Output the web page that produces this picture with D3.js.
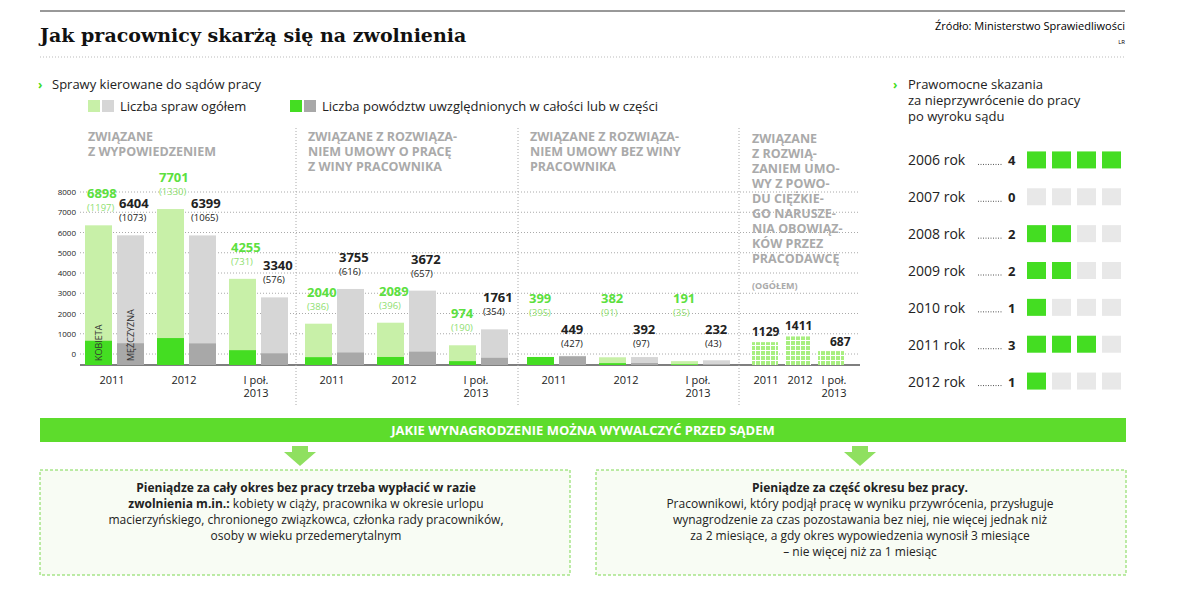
<!DOCTYPE html>
<html><head><meta charset="utf-8">
<script src="https://cdn.jsdelivr.net/npm/d3@7"></script>
<style>body{margin:0;background:#fff;font-family:"Open Sans",sans-serif}</style>
</head><body>
<svg id="c" width="1200" height="589"></svg>
<script>
const periods = ["2011", "2012", "I poł.|2013"]
const panelTitles = [
    ["ZWIĄZANE", "Z WYPOWIEDZENIEM"],
    ["ZWIĄZANE Z ROZWIĄZA-", "NIEM UMOWY O PRACĘ", "Z WINY PRACOWNIKA"],
    ["ZWIĄZANE Z ROZWIĄZA-", "NIEM UMOWY BEZ WINY", "PRACOWNIKA"]
]
// [kobieta total, kobieta uwzgl., mężczyzna total, mężczyzna uwzgl.] per period
const wypowiedzenie = [[6898, 1197, 6404, 1073], [7701, 1330, 6399, 1065], [4255, 731, 3340, 576]]
const winaPracownika = [[2040, 386, 3755, 616], [2089, 396, 3672, 657], [974, 190, 1761, 354]]
const bezWiny = [[399, 395, 449, 427], [382, 91, 392, 97], [191, 35, 232, 43]]
const pracodawca = [1129, 1411, 687]
const yTicks = [0, 1000, 2000, 3000, 4000, 5000, 6000, 7000, 8000]
const skazaniaYears = ["2006 rok", "2007 rok", "2008 rok", "2009 rok", "2010 rok", "2011 rok", "2012 rok"]
const skazania = [4, 0, 2, 2, 1, 3, 1]

const svg = d3.select("#c")
const GL = "#c8f0a8", G = "#44dd22", GR = "#d6d6d6", GD = "#a8a8a8", TXT = "#222"

// header
svg.append("line").attr("x1", 40).attr("x2", 1125).attr("y1", 11).attr("y2", 11).attr("stroke", "#333").attr("stroke-width", 1)
svg.append("text").attr("x", 40).attr("y", 42).attr("font-family", "DejaVu Serif").attr("font-weight", "bold").attr("font-size", 19).attr("fill", "#111").text("Jak pracownicy skarżą się na zwolnienia")
svg.append("text").attr("x", 1125).attr("y", 30).attr("text-anchor", "end").attr("font-size", 11).text("Źródło: Ministerstwo Sprawiedliwości")
svg.append("text").attr("x", 1125).attr("y", 44).attr("text-anchor", "end").attr("font-size", 6).text("LR")
svg.append("line").attr("x1", 40).attr("x2", 1125).attr("y1", 57).attr("y2", 57).attr("stroke", "#bbb").attr("stroke-dasharray", "1,2")

const bullet = (x, y) => svg.append("text").attr("x", x).attr("y", y).attr("fill", G).attr("font-size", 12).attr("font-weight", "bold").text("›")
bullet(38, 89)
svg.append("text").attr("x", 52).attr("y", 89).attr("font-size", 13).attr("fill", TXT).text("Sprawy kierowane do sądów pracy")

// legend
const leg = [[88, [GL, GR], "Liczba spraw ogółem"], [290, [G, GD], "Liczba powództw uwzględnionych w całości lub w części"]]
leg.forEach(([x, cols, t]) => {
    cols.forEach((c, i) => svg.append("rect").attr("x", x + i * 14).attr("y", 100).attr("width", 12).attr("height", 12).attr("fill", c))
    svg.append("text").attr("x", x + 32).attr("y", 111).attr("font-size", 13).attr("fill", TXT).text(t)
})

const y = d3.scaleLinear().domain([0, 8000]).range([365, 203])

// gridlines + axis labels
const grid = svg.append("g")
yTicks.forEach(t => {
    grid.append("line").attr("x1", 80).attr("x2", 860).attr("y1", y(t) - 11).attr("y2", y(t) - 11)
        .attr("stroke", "#aaa").attr("stroke-dasharray", "1,2")
    grid.append("text").attr("x", 76).attr("y", y(t) - 8).attr("text-anchor", "end").attr("font-size", 8).attr("fill", TXT).text(t)
})
svg.append("line").attr("x1", 80).attr("x2", 860).attr("y1", 365).attr("y2", 365).attr("stroke", "#555").attr("stroke-width", 1.5)

const dividers = [296, 518, 739]
dividers.forEach(x => svg.append("line").attr("x1", x).attr("x2", x).attr("y1", 128).attr("y2", 405).attr("stroke", "#aaa").attr("stroke-dasharray", "1,2"))

const periodLabel = (cx, p) => {
    p.split("|").forEach((s, i) => svg.append("text").attr("x", cx).attr("y", 384 + i * 13).attr("text-anchor", "middle").attr("font-size", 11).attr("fill", TXT).text(s))
}

const panelX = [85, 305, 527]
const sets = [wypowiedzenie, winaPracownika, bezWiny]
const bw = 27, gap = 5, pitch = 72
sets.forEach((data, pi) => {
    const x0 = panelX[pi]
    panelTitles[pi].forEach((t, i) => svg.append("text").attr("x", x0 + 3).attr("y", 141 + i * 15).attr("font-size", 12.5).attr("font-weight", "bold").attr("fill", "#aaa").text(t))
    data.forEach((d, j) => {
        const gx = x0 + j * pitch
        const xs = [gx, gx + bw + gap]
        ;[[d[0], d[1], GL, G, "#5ce040"], [d[2], d[3], GR, GD, TXT]].forEach(([tot, uw, c1, c2, tc], k) => {
            svg.append("rect").attr("x", xs[k]).attr("y", y(tot)).attr("width", bw).attr("height", 365 - y(tot)).attr("fill", c1)
            svg.append("rect").attr("x", xs[k]).attr("y", y(uw)).attr("width", bw).attr("height", 365 - y(uw)).attr("fill", c2)
            const ty = tot < 500 ? (k ? 334 : 303) : y(tot) - 27
            svg.append("text").attr("x", xs[k] + 2).attr("y", ty).attr("font-size", 13).attr("font-weight", "bold").attr("fill", tc).text(tot)
            svg.append("text").attr("x", xs[k] + 2).attr("y", ty + 13).attr("font-size", 9.5).attr("fill", k ? TXT : "#8ee070").text(`(${uw})`)
        })
        periodLabel(gx + bw, periods[j])
    })
})
// vertical labels in first pair
;[["KOBIETA", 85], ["MĘŻCZYZNA", 117]].forEach(([t, x]) => {
    svg.append("text").attr("transform", `translate(${x + 17},361) rotate(-90)`).attr("font-size", 9).attr("fill", "#333").text(t)
})

// panel 4
const p4 = ["ZWIĄZANE", "Z  ROZWIĄ-", "ZANIEM UMO-", "WY Z POWO-", "DU CIĘŻKIE-", "GO NARUSZE-", "NIA OBOWIĄZ-", "KÓW PRZEZ", "PRACODAWCĘ"]
p4.forEach((t, i) => svg.append("text").attr("x", 752).attr("y", 143 + i * 15).attr("font-size", 12.5).attr("font-weight", "bold").attr("fill", "#aaa").text(t))
svg.append("text").attr("x", 752).attr("y", 289).attr("font-size", 9).attr("font-weight", "bold").attr("fill", "#aaa").text("(OGÓŁEM)")
const pat = svg.append("defs").append("pattern").attr("id", "chk").attr("width", 5).attr("height", 5).attr("patternUnits", "userSpaceOnUse")
pat.append("rect").attr("width", 5).attr("height", 5).attr("fill", "#a8ef80")
pat.append("path").attr("d", "M0,0.5H5M0.5,0V5").attr("stroke", "#fff").attr("stroke-width", 1)
pracodawca.forEach((v, j) => {
    const x = 752 + j * 33
    svg.append("rect").attr("x", x).attr("y", y(v)).attr("width", 26).attr("height", 365 - y(v)).attr("fill", "url(#chk)")
    svg.append("text").attr("x", x + (j == 2 ? 12 : 0)).attr("y", y(v) - (j == 2 ? 5 : 6)).attr("font-size", 12).attr("font-weight", "bold").attr("fill", TXT).text(v)
})
;["2011", "2012", "I poł.|2013"].forEach((p, j) => {
    p.split("|").forEach((s, i) => svg.append("text").attr("x", 766 + j * 34).attr("y", 384 + i * 13).attr("text-anchor", "middle").attr("font-size", 11).attr("fill", TXT).text(s))
})

// right panel
bullet(893, 89)
;["Prawomocne skazania", "za nieprzywrócenie do pracy", "po wyroku sądu"].forEach((t, i) =>
    svg.append("text").attr("x", 908).attr("y", 89 + i * 16).attr("font-size", 13).attr("fill", TXT).text(t))
const ry = d3.scaleBand().domain(skazaniaYears).range([142, 400]).paddingInner(0)
skazaniaYears.forEach((yr, i) => {
    const cy = ry(yr) + ry.bandwidth() / 2
    svg.append("text").attr("x", 908).attr("y", cy + 5).attr("font-size", 14).attr("fill", TXT).text(yr)
    svg.append("line").attr("x1", 978).attr("x2", 1002).attr("y1", cy + 4).attr("y2", cy + 4).attr("stroke", "#555").attr("stroke-dasharray", "1,1.5")
    svg.append("text").attr("x", 1008).attr("y", cy + 5).attr("font-size", 13).attr("font-weight", "bold").attr("fill", TXT).text(skazania[i])
    for (let k = 0; k < 4; k++) {
        svg.append("rect").attr("x", 1027 + k * 25).attr("y", cy - 9).attr("width", 19).attr("height", 17).attr("fill", k < skazania[i] ? G : "#e8e8e8")
    }
})

// banner
svg.append("rect").attr("x", 40).attr("y", 418).attr("width", 1086).attr("height", 24).attr("fill", "#5ddc2c")
svg.append("text").attr("x", 583).attr("y", 435).attr("text-anchor", "middle").attr("font-size", 13).attr("font-weight", "bold").attr("fill", "#fff").text("JAKIE WYNAGRODZENIE MOŻNA WYWALCZYĆ PRZED SĄDEM")
;[300, 860].forEach(cx => {
    svg.append("rect").attr("x", cx - 8).attr("y", 446).attr("width", 16).attr("height", 6).attr("fill", "#8fe060")
    svg.append("path").attr("d", `M${cx - 16},452H${cx + 16}L${cx},466Z`).attr("fill", "#8fe060")
})
const boxes = [
    [40, 470, 530, 105, 306, [["b", "Pieniądze za cały okres bez pracy trzeba wypłacić w razie"], ["m", "zwolnienia m.in.:| kobiety w ciąży, pracownika w okresie urlopu"], ["", "macierzyńskiego, chronionego związkowca, członka rady pracowników,"], ["", "osoby w wieku przedemerytalnym"]]],
    [596, 470, 530, 105, 860, [["b", "Pieniądze za część okresu bez pracy."], ["", "Pracownikowi, który podjął pracę w wyniku przywrócenia, przysługuje"], ["", "wynagrodzenie za czas pozostawania bez niej, nie więcej jednak niż"], ["", "za 2 miesiące, a gdy okres wypowiedzenia wynosił 3 miesiące"], ["", "– nie więcej niż za 1 miesiąc"]]]
]
boxes.forEach(([x, yy, w, h, cx, lines]) => {
    svg.append("rect").attr("x", x).attr("y", yy).attr("width", w).attr("height", h).attr("fill", "#f8fcf4").attr("stroke", "#7cd850").attr("stroke-dasharray", "3,2")
    lines.forEach(([k, t], i) => {
        const tx = svg.append("text").attr("x", cx).attr("y", yy + 22 + i * 16).attr("text-anchor", "middle").attr("font-size", 12).attr("fill", TXT)
        if (k === "b") tx.attr("font-weight", "bold").text(t)
        else if (k === "m") {
            const [a, b] = t.split("|")
            tx.append("tspan").attr("font-weight", "bold").text(a)
            tx.append("tspan").text(b)
        } else tx.text(t)
    })
})
</script>
</body></html>
